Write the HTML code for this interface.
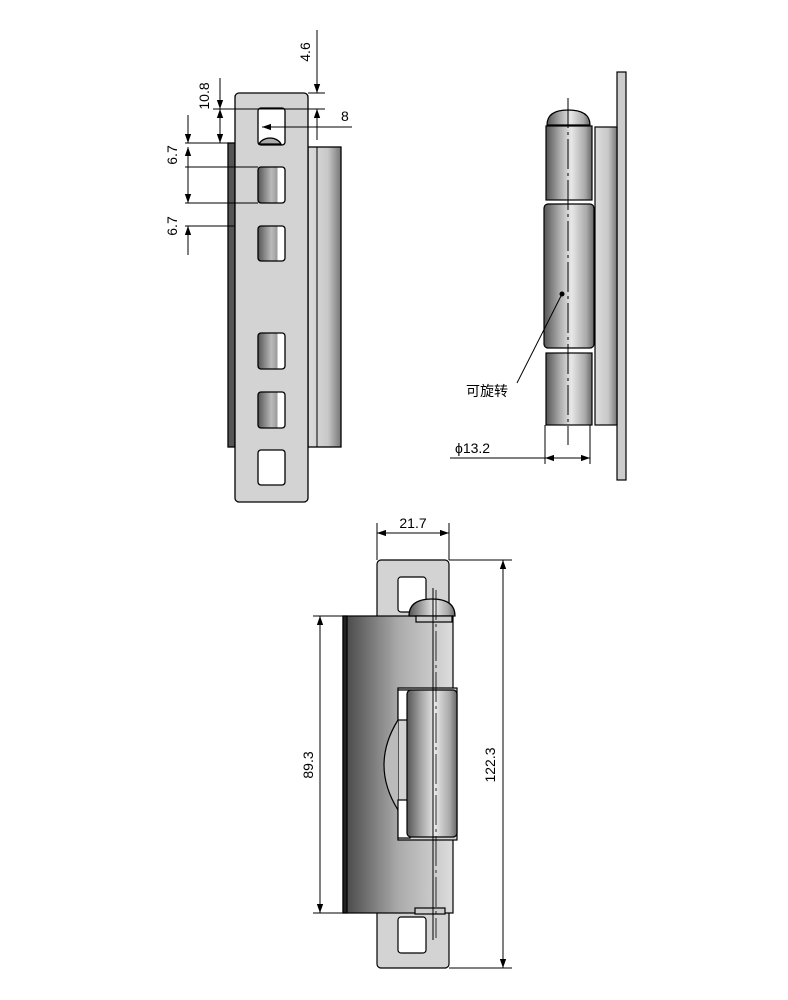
<!DOCTYPE html>
<html><head><meta charset="utf-8"><style>html,body{margin:0;padding:0;background:#fff}svg{display:block}</style></head>
<body>
<svg width="788" height="1000" viewBox="0 0 788 1000" xmlns="http://www.w3.org/2000/svg" font-family="Liberation Sans, Noto Sans CJK SC, sans-serif">
<defs>
<linearGradient id="slot" x1="0" x2="1"><stop offset="0" stop-color="#555"/><stop offset="0.5" stop-color="#bbb"/><stop offset="0.72" stop-color="#999"/><stop offset="0.73" stop-color="#fff"/><stop offset="1" stop-color="#fff"/></linearGradient>
<linearGradient id="bar" x1="0" x2="1"><stop offset="0" stop-color="#ddd"/><stop offset="0.6" stop-color="#c8c8c8"/><stop offset="1" stop-color="#777"/></linearGradient>
<linearGradient id="cyl" x1="0" x2="1"><stop offset="0" stop-color="#555"/><stop offset="0.3" stop-color="#aaa"/><stop offset="0.55" stop-color="#e8e8e8"/><stop offset="0.85" stop-color="#aaa"/><stop offset="1" stop-color="#666"/></linearGradient>
<linearGradient id="leaf" x1="0" x2="1"><stop offset="0" stop-color="#444"/><stop offset="0.5" stop-color="#aaa"/><stop offset="1" stop-color="#ddd"/></linearGradient>
<marker id="a" viewBox="0 0 10 10" refX="10" refY="5" markerWidth="9" markerHeight="9" orient="auto-start-reverse" markerUnits="userSpaceOnUse"><path d="M0,1.5 L10,5 L0,8.5z" fill="#000"/></marker>
</defs>
<g stroke="#000" stroke-width="1.3">
<rect x="228" y="143" width="7" height="304" fill="#555"/>
<rect x="308" y="147" width="33" height="300" fill="url(#bar)"/>
<line x1="317" y1="147" x2="317" y2="447" stroke-width="1"/>
<rect x="235" y="93" width="73" height="409" rx="4" fill="#d3d3d3"/>
<rect x="258" y="108" width="27" height="37" rx="3" fill="#fff"/>
<path d="M259,144 A12,10 0 0 1 281,144 Z" fill="#aaa"/>
<rect x="258" y="167" width="27" height="36" rx="3" fill="url(#slot)"/>
<rect x="258" y="226" width="27" height="35" rx="3" fill="url(#slot)"/>
<rect x="258" y="333" width="27" height="36" rx="3" fill="url(#slot)"/>
<rect x="258" y="392" width="27" height="36" rx="3" fill="url(#slot)"/>
<rect x="258" y="450" width="27" height="35" rx="3" fill="#fff"/>
</g>
<g stroke="#000" stroke-width="1" fill="none">
<line x1="317" y1="30" x2="317" y2="93" marker-end="url(#a)"/>
<line x1="308" y1="93" x2="325" y2="93"/>
<line x1="213" y1="109" x2="325" y2="109"/>
<line x1="317" y1="140" x2="317" y2="109" marker-end="url(#a)"/>
<line x1="352" y1="127" x2="262" y2="127" marker-end="url(#a)"/>
<line x1="220" y1="78" x2="220" y2="109" marker-end="url(#a)"/>
<line x1="220" y1="109" x2="220" y2="143" marker-start="url(#a)" marker-end="url(#a)"/>
<line x1="185" y1="143" x2="235" y2="143"/>
<line x1="185" y1="167" x2="258" y2="167"/>
<line x1="185" y1="203" x2="258" y2="203"/>
<line x1="185" y1="226" x2="235" y2="226"/>
<line x1="188" y1="115" x2="188" y2="143" marker-end="url(#a)"/>
<line x1="188" y1="167" x2="188" y2="147" marker-end="url(#a)"/>
<line x1="188" y1="167" x2="188" y2="203" marker-end="url(#a)"/>
<line x1="188" y1="255" x2="188" y2="226" marker-end="url(#a)"/>
</g>
<g font-size="14" fill="#000">
<text transform="translate(310,52) rotate(-90)" text-anchor="middle">4.6</text>
<text x="341" y="121">8</text>
<text transform="translate(209,96) rotate(-90)" text-anchor="middle">10.8</text>
<text transform="translate(177,155) rotate(-90)" text-anchor="middle">6.7</text>
<text transform="translate(177,226) rotate(-90)" text-anchor="middle">6.7</text>
</g>
<g stroke="#000" stroke-width="1.2">
<rect x="617" y="72" width="9" height="408" fill="#ccc"/>
<rect x="595" y="127" width="22" height="298" fill="url(#bar)"/>
<path d="M547,125 Q547,110 568,110 Q590,110 590,125 Z" fill="url(#cyl)"/>
<rect x="546" y="126" width="46" height="74" fill="url(#cyl)"/>
<rect x="544" y="204" width="50" height="144" rx="4" fill="url(#cyl)"/>
<rect x="546" y="353" width="46" height="72" fill="url(#cyl)"/>
</g>
<line x1="568" y1="98" x2="568" y2="445" stroke="#000" stroke-width="1" stroke-dasharray="30,4,3,4"/>
<circle cx="562" cy="294" r="2.5" fill="#000"/>
<line x1="562" y1="294" x2="517" y2="383" stroke="#000" stroke-width="1"/>
<text x="466" y="396" font-size="14">可旋转</text>
<g stroke="#000" stroke-width="1">
<line x1="545" y1="425" x2="545" y2="464"/><line x1="590" y1="425" x2="590" y2="464"/>
<line x1="450" y1="458" x2="545" y2="458"/>
<line x1="567" y1="458" x2="545" y2="458" marker-end="url(#a)"/>
<line x1="567" y1="458" x2="590" y2="458" marker-end="url(#a)"/>
</g>
<text x="455" y="453" font-size="14">ϕ13.2</text>
<g stroke="#000" stroke-width="1.2">
<rect x="377" y="560" width="72" height="408" rx="4" fill="#d3d3d3"/>
<rect x="398" y="577" width="28" height="35" rx="3" fill="#fff"/>
<rect x="398" y="917" width="28" height="36" rx="3" fill="#fff"/>
<rect x="343" y="616" width="110" height="297" fill="url(#leaf)"/>
<rect x="343" y="616" width="4" height="297" fill="#222"/>
<rect x="398" y="688" width="59" height="152" fill="#d3d3d3"/>
<path d="M398,720 Q370,765 398,810" fill="#bbb"/>
<rect x="398" y="690" width="12" height="30" fill="#fff"/>
<rect x="398" y="800" width="12" height="38" fill="#fff"/>
<rect x="407" y="690" width="50" height="147" rx="4" fill="url(#cyl)"/>
<path d="M409,616 Q409,599 432,599 Q455,599 455,616 Z" fill="url(#cyl)"/>
<rect x="416" y="616" width="36" height="6" fill="#ccc"/>
<rect x="415" y="908" width="30" height="6" fill="#ccc"/>
</g>
<line x1="433" y1="588" x2="433" y2="940" stroke="#000" stroke-width="1"/>
<line x1="436" y1="590" x2="436" y2="938" stroke="#000" stroke-width="0.8" stroke-dasharray="30,4,3,4"/>
<g stroke="#000" stroke-width="1">
<line x1="377" y1="523" x2="377" y2="560"/><line x1="449" y1="523" x2="449" y2="560"/>
<line x1="413" y1="533" x2="377" y2="533" marker-end="url(#a)"/>
<line x1="413" y1="533" x2="449" y2="533" marker-end="url(#a)"/>
<line x1="449" y1="560" x2="512" y2="560"/><line x1="449" y1="968" x2="512" y2="968"/>
<line x1="503" y1="765" x2="503" y2="560" marker-end="url(#a)"/>
<line x1="503" y1="765" x2="503" y2="968" marker-end="url(#a)"/>
<line x1="313" y1="616" x2="343" y2="616"/><line x1="313" y1="913" x2="343" y2="913"/>
<line x1="320" y1="765" x2="320" y2="616" marker-end="url(#a)"/>
<line x1="320" y1="765" x2="320" y2="913" marker-end="url(#a)"/>
</g>
<g font-size="14">
<text x="413" y="528" text-anchor="middle">21.7</text>
<text transform="translate(495,765) rotate(-90)" text-anchor="middle">122.3</text>
<text transform="translate(313,765) rotate(-90)" text-anchor="middle">89.3</text>
</g>
</svg>
</body></html>
